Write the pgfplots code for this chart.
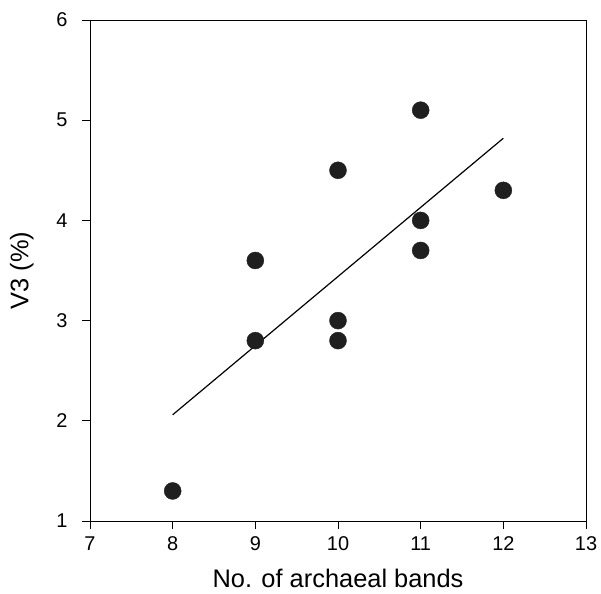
\documentclass[border=0pt]{standalone}
\usepackage{fontspec}
\setmainfont{Liberation Sans}
\usepackage{pgfplots}
\pgfplotsset{compat=1.18}
\begin{document}
\begin{tikzpicture}
\begin{axis}[
    scale only axis,
    width=496bp, height=501bp,
    xmin=7, xmax=13, ymin=1, ymax=6,
    xtick={7,...,13}, ytick={1,...,6},
    tick align=outside,
    tick pos=left,
    major tick length=8bp,
    axis line style={line width=0.9bp},
    every tick/.style={line width=0.9bp, black},
    tick label style={font=\fontsize{20}{24}\selectfont},
    xticklabel style={yshift=-4bp},
    yticklabel style={xshift=-11bp},
    label style={font=\fontsize{25.5}{30}\selectfont},
    /pgf/number format/assume math mode=true,
    xlabel={No. of archaeal bands},
    ylabel={V3 (\%)},
    xlabel style={yshift=-12bp},
    ylabel style={yshift=16bp},
]
\addplot[only marks, mark=*, mark size=8.5bp, black!88] coordinates {
    (8,1.3) (9,3.6) (9,2.8) (10,4.5) (10,3.0) (10,2.8)
    (11,5.1) (11,4.0) (11,3.7) (12,4.3)
};
\addplot[line width=1.2bp, black] coordinates {(8,2.06) (12,4.82)};
\end{axis}
\pgfresetboundingbox
\path ([shift={(-90bp,-72bp)}]current axis.south west) rectangle ([shift={(15bp,20bp)}]current axis.north east);
\end{tikzpicture}
\end{document}
